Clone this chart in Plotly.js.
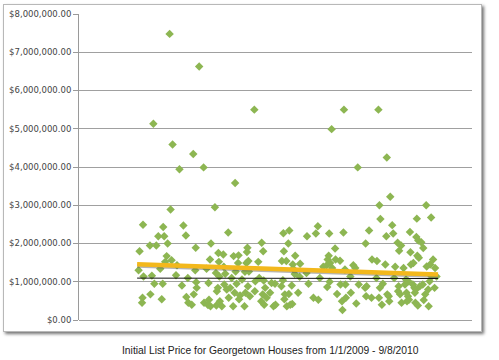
<!DOCTYPE html>
<html>
<head>
<meta charset="utf-8">
<script src="https://cdn.plot.ly/plotly-3.0.1.min.js"></script>
<style>
  html, body { margin: 0; padding: 0; background: #ffffff; width: 499px; height: 360px; overflow: hidden; }
  #frame { position: absolute; left: 3px; top: 4px; width: 477px; height: 326px;
           border: 1px solid #b8b8b8; background: #ffffff;
           box-shadow: 2px 2px 3px rgba(0,0,0,0.55); }
  #chart { position: absolute; left: 0; top: 0; width: 499px; height: 360px; }
</style>
</head>
<body>
<div id="frame"></div>
<div id="chart"></div>
<script>
// Day offset of each listing (from 1/1/2009) and its initial list price
var listDays = [
  3,5,12,13,11,10,26,27,30,33,35,39,43,47,50,52,53,55,57,60,62,66,68,70,72,79,81,86,91,94,
  99,100,103,104,111,114,115,118,119,120,121,126,135,136,141,144,145,146,148,149,150,158,160,161,162,165,166,167,164,168,
  172,175,176,177,179,182,185,186,189,192,196,195,199,200,198,202,206,205,207,209,213,218,219,220,223,222,224,226,227,225,
  229,238,240,239,246,248,253,252,256,257,255,258,260,263,270,273,277,280,281,294,293,297,298,296,299,300,304,303,307,308,
  309,311,314,315,316,317,321,320,327,331,330,344,345,348,358,363,367,368,371,378,385,387,386,390,389,391,392,395,396,402,
  403,406,412,413,416,417,420,419,422,423,424,433,434,439,443,445,448,450,463,464,465,466,471,476,477,487,486,490,491,492,
  494,493,497,499,504,506,507,508,511,512,514,518,520,522,524,529,530,531,532,534,536,537,541,544,546,547,548,551,550,552,
  554,555,556,561,560,563,564,565,568,567,569,566,570,571,572,574,577,581,582,580,585,587,588,591,592,595,594,597,598,601,
  605,604,608
];
var listPrices = [
  1300000,1800000,2490000,1140000,580000,450000,1950000,670000,1160000,5130000,950000,1950000,2190000,1340000,540000,950000,2430000,2190000,1520000,1670000,
  2000000,7480000,2890000,1560000,4590000,1170000,1430000,3940000,900000,2470000,
  2210000,600000,1100000,450000,400000,4340000,670000,1300000,1890000,990000,840000,6630000,3990000,450000,1340000,390000,970000,530000,1580000,360000,
  2000000,2950000,1230000,380000,750000,1750000,1520000,1140000,840000,490000,
  360000,1710000,1390000,930000,1210000,800000,2290000,580000,840000,1100000,1670000,360000,3580000,1270000,710000,950000,1690000,1490000,540000,640000,
  1060000,360000,1260000,710000,1780000,1490000,1890000,1540000,1270000,880000,
  620000,5500000,1010000,750000,1520000,1100000,2020000,490000,1800000,1030000,670000,400000,840000,580000,710000,970000,360000,950000,400000,1540000,
  880000,2270000,1800000,1040000,540000,670000,360000,1540000,2000000,680000,
  2340000,400000,900000,420000,1450000,1340000,1680000,1200000,710000,1470000,1130000,1230000,2190000,950000,580000,2260000,2450000,530000,1100000,1390000,
  1430000,1580000,860000,2260000,1680000,1000000,1490000,4990000,1360000,1870000,
  1580000,680000,1550000,930000,490000,260000,5500000,2290000,1320000,930000,580000,1140000,710000,1430000,1360000,430000,3990000,930000,840000,2000000,
  620000,880000,2340000,580000,1580000,1540000,1100000,5500000,580000,3000000,
  2640000,840000,400000,950000,1450000,2190000,4250000,670000,620000,490000,3220000,2480000,2260000,1100000,1390000,2020000,750000,880000,1810000,670000,
  1950000,450000,1360000,930000,1060000,710000,490000,1010000,620000,530000,
  2300000,1770000,1450000,1490000,930000,840000,710000,450000,2650000,2170000,1680000,800000,380000,2080000,1630000,880000,2030000,1880000,520000,930000,
  670000,3000000,1400000,800000,360000,1450000,1010000,2680000,1140000,1580000,
  1360000,840000,1140000
];
// Linear trend line and reference line end points
var trendDays = [0, 611];
var trendPrices = [1460000, 1190000];
var refDays = [0, 611];
var refPrices = [1095000, 1085000];
// Y-axis ticks
var tickValues = [0,1000000,2000000,3000000,4000000,5000000,6000000,7000000,8000000];
var tickLabels = ["$0.00","$1,000,000.00","$2,000,000.00","$3,000,000.00","$4,000,000.00",
                  "$5,000,000.00","$6,000,000.00","$7,000,000.00","$8,000,000.00"];
var chartTitle = "Initial List Price for Georgetown Houses from 1/1/2009 - 9/8/2010";

var traces = [
  { x: listDays, y: listPrices, type: 'scatter', mode: 'markers',
    marker: { symbol: 'diamond', size: 6.5, color: '#8db652', line: { width: 0 } },
    hoverinfo: 'none', showlegend: false },
  { x: refDays, y: refPrices, type: 'scatter', mode: 'lines',
    line: { color: '#111111', width: 1 }, hoverinfo: 'none', showlegend: false },
  { x: trendDays, y: trendPrices.map(function(v){ return v - 40000; }), type: 'scatter', mode: 'lines',
    line: { color: 'rgba(90,90,90,0.45)', width: 4 }, hoverinfo: 'none', showlegend: false },
  { x: trendDays, y: trendPrices, type: 'scatter', mode: 'lines',
    line: { color: '#f3b81c', width: 4.5 }, hoverinfo: 'none', showlegend: false }
];

var layout = {
  width: 499, height: 360,
  margin: { l: 79, r: 27, t: 14, b: 40, pad: 0 },
  paper_bgcolor: 'rgba(0,0,0,0)',
  plot_bgcolor: 'rgba(0,0,0,0)',
  showlegend: false,
  xaxis: { range: [-118, 680], showgrid: false, zeroline: false, showticklabels: false,
           ticks: '', showline: false, fixedrange: true },
  yaxis: { range: [0, 8000000], tickvals: tickValues, ticktext: tickLabels,
           showgrid: true, gridcolor: '#a0a0a0', gridwidth: 1, zeroline: true, zerolinecolor: '#a0a0a0', zerolinewidth: 1,
           showline: true, linecolor: '#9a9a9a', linewidth: 1,
           ticks: 'outside', ticklen: 5, tickcolor: '#9a9a9a',
           tickfont: { family: 'DejaVu Sans', size: 8.5, color: '#444444' }, fixedrange: true },
  annotations: [
    { text: chartTitle, xref: 'paper', yref: 'paper', x: 0.4885, y: -0.0987,
      xanchor: 'center', yanchor: 'middle', showarrow: false,
      font: { family: 'Liberation Sans', size: 10.3, color: '#222222' } }
  ]
};

Plotly.newPlot('chart', traces, layout, { staticPlot: true, displayModeBar: false });
</script>
</body>
</html>
